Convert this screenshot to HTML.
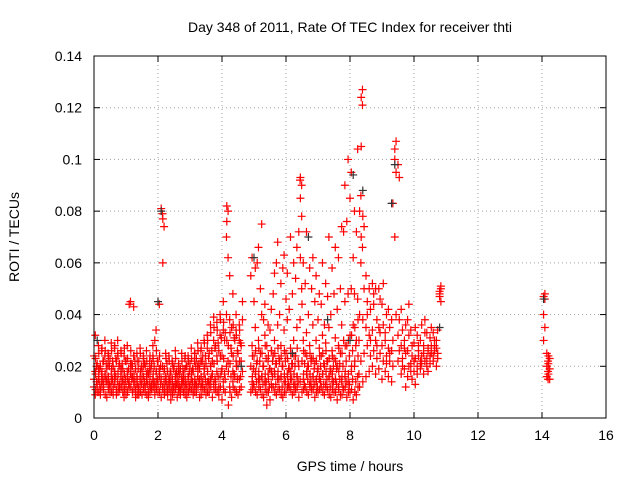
<!DOCTYPE html>
<html><head><meta charset="utf-8">
<style>
html,body{margin:0;padding:0;background:#fff;}
svg text{font-family:"Liberation Sans",sans-serif;font-size:14px;fill:#000;}
</style></head>
<body>
<svg id="chart" width="640" height="480" viewBox="0 0 640 480" xmlns="http://www.w3.org/2000/svg">
<rect width="640" height="480" fill="#fff"/>
<text x="350" y="32" text-anchor="middle">Day 348 of 2011, Rate Of TEC Index for receiver thti</text>
<text x="350" y="471" text-anchor="middle">GPS time / hours</text>
<text transform="translate(19,237) rotate(-90)" text-anchor="middle">ROTI / TECUs</text>
<g id="grid"></g>
<g id="ticks"></g>
<g id="red"></g>
<g id="black"></g>
<rect x="94" y="56" width="512" height="362" fill="none" stroke="#000" stroke-width="1"/>
</svg>
<script>
const xTicks=[0,2,4,6,8,10,12,14,16];
const yTicks=[0,0.02,0.04,0.06,0.08,0.1,0.12,0.14];
const yTickLabels=["0","0.02","0.04","0.06","0.08","0.1","0.12","0.14"];
const redHours=[0,0.1,0.2,0.3,0.4,0.5,0.6,0.7,0.8,0.9,1.0,1.1,1.2,1.3,1.4,1.5,1.6,1.7,1.8,1.9,2.0,2.1,2.15,2.2,2.3,2.4,2.5,2.6,2.7,2.8,2.9,3.0,3.1,3.2,3.3,3.4,3.5,3.6,3.7,3.8,3.9,4.0,4.1,4.15,4.2,4.3,4.4,4.5,4.6,
4.9,5.0,5.1,5.2,5.3,5.4,5.5,5.6,5.7,5.8,5.9,6.0,6.1,6.2,6.3,6.4,6.45,6.5,6.6,6.7,6.8,6.9,7.0,7.1,7.2,7.3,7.4,7.5,7.6,7.7,7.8,7.9,8.0,8.1,8.2,8.3,8.35,8.4,8.5,8.6,8.7,8.8,8.9,9.0,9.1,9.2,9.3,9.4,9.5,9.6,9.7,9.8,9.9,10.0,10.1,10.2,10.3,10.4,10.5,10.6,10.7,10.8,14.05,14.15,14.2];
const redRotiMilli=[
[12,18,24,32,15,9],[10,15,21,28,13,19],[9,14,20,26,11,17],[11,16,22,30,13,24],[8,13,19,25,15,21],[10,17,23,29,12,14],[12,15,20,27,9,18],[9,14,22,30,11,25],[11,16,21,26,13,19],[10,13,19,24,15,8],
[9,15,22,28,12,18],[12,17,44,45,14,21],[10,14,20,43,16,24],[8,13,19,25,11,16],[11,16,22,27,9,14],[9,12,18,24,15,20],[10,14,20,26,12,17],[8,13,17,22,10,19],[11,15,21,28,13,24],[9,14,30,34,12,18],
[10,16,22,44,13,19],[8,12,81,79,15,20],[60,74,77,18,11,14],[11,14,19,25,9,16],[9,13,18,24,11,15],[7,12,17,22,10,14],[10,14,20,26,12,17],[8,11,16,21,13,18],[9,13,19,25,11,15],[10,12,17,23,14,19],
[8,14,20,24,11,16],[11,15,21,27,13,18],[9,13,18,25,11,22],[10,16,23,29,13,20],[8,12,19,26,15,22],[11,17,24,30,14,20],[9,14,21,32,12,27],[10,15,25,36,13,20],[8,13,22,39,17,30],[11,18,28,37,14,24],
[9,16,26,40,12,32],[7,14,24,45,19,34],[10,20,33,70,15,40],[82,80,76,62,30,22],[5,12,28,55,18,38],[8,18,35,48,25,14],[11,22,30,40,16,34],[9,15,25,36,20,30],[12,18,28,45,22,38],
[10,14,20,28,55,62],[12,18,24,35,45,58],[9,15,22,30,60,66],[11,16,25,40,50,75],[8,14,20,32,38,44],[10,17,28,36,5,22],[7,13,19,26,34,42],[12,18,24,30,48,56],[9,15,21,36,60,68],[11,16,22,28,40,52],
[8,14,20,34,58,63],[10,17,25,38,46,56],[12,15,19,27,42,70],[9,13,21,30,48,60],[11,16,24,35,54,66],[8,14,20,38,72,92],[93,90,85,78,62,50],[10,15,22,30,44,60],[12,17,25,33,52,72],[9,13,20,28,40,58],
[11,16,23,36,50,62],[8,14,21,30,45,55],[10,15,19,27,38,48],[12,17,24,32,44,60],[9,13,20,29,36,52],[11,16,22,35,47,70],[8,14,18,26,40,58],[10,15,23,31,48,66],[7,12,20,28,42,62],[9,14,25,36,50,74],
[11,16,30,45,72,90],[8,14,28,48,76,100],[10,18,32,50,85,95],[7,20,36,48,62,80],[9,16,30,46,72,104],[12,22,40,60,80,86],[105,127,124,121,70,66],[14,25,38,50,78,74],[16,28,35,45,55,40],[18,24,32,42,50,30],
[20,26,34,48,52,44],[17,23,30,38,50,28],[19,25,35,46,50,33],[15,22,28,36,44,52],[18,24,33,40,30,21],[16,22,27,35,42,25],[14,20,26,30,38,83],[100,107,104,95,70,40],[22,26,32,38,98,93],[17,23,28,34,42,20],
[19,25,30,36,27,12],[16,20,26,32,38,44],[21,28,34,24,18,15],[18,23,29,35,22,13],[20,26,32,24,17,28],[19,24,30,36,22,21],[17,22,28,38,25,33],[23,27,33,26,20,18],[21,25,31,35,24,28],[24,28,22,26,33,30],
[20,25,30,23,27,34],[47,50,48,45,49,51],[47,46,40,35,30,48],[25,22,20,18,16,15],[24,23,21,19,17,15]];
// extra dense-band samples
const fillHours=[0.05,0.15,0.25,0.35,0.45,0.55,0.65,0.75,0.85,0.95,1.05,1.15,1.25,1.35,1.45,1.55,1.65,1.75,1.85,1.95,2.05,2.25,2.35,2.45,2.55,2.65,2.75,2.85,2.95,3.05,3.15,3.25,3.35,3.45,3.55,3.65,3.75,3.85,3.95,4.05,4.25,4.35,4.45,4.55,
4.95,5.05,5.15,5.25,5.35,5.45,5.55,5.65,5.75,5.85,5.95,6.05,6.15,6.25,6.35,6.55,6.65,6.75,6.85,6.95,7.05,7.15,7.25,7.35,7.45,7.55,7.65,7.75,7.85,7.95,8.05,8.15,8.25];
const fillRotiMilli=[
[11,14,17,20,23],[10,13,16,19,25],[12,15,18,22,27],[9,14,17,21,26],[11,13,16,20,24],[10,15,19,22,26],[13,16,18,23,28],[10,12,17,20,24],[12,14,18,21,25],[11,15,17,22,27],
[10,13,16,19,23],[12,15,18,21,26],[11,14,17,22,24],[9,12,15,19,22],[10,13,18,20,25],[11,14,16,21,23],[9,13,15,18,22],[10,12,16,19,24],[12,14,17,20,23],[11,15,18,22,26],
[10,13,17,20,24],[10,13,16,21,23],[11,14,15,18,22],[9,12,15,19,21],[11,13,16,18,23],[10,12,14,17,20],[11,14,16,19,22],[9,13,15,20,24],[10,12,16,18,22],[11,14,17,19,23],
[10,13,15,20,25],[12,14,18,21,26],[9,13,16,22,27],[11,15,19,24,29],[10,14,18,23,30],[12,16,20,26,33],[11,15,21,27,35],[10,16,22,29,34],[12,18,24,31,38],[11,17,23,30,37],
[10,16,21,27,33],[12,17,24,31,36],[10,15,20,26,32],[11,16,22,29,34],
[11,13,16,19,24],[10,14,17,21,26],[12,15,18,22,27],[9,13,16,20,25],[11,14,17,23,28],[10,12,15,19,24],[12,16,18,22,26],[10,13,17,21,25],[11,15,18,23,27],[9,12,16,20,24],
[10,14,17,22,26],[12,13,16,19,23],[11,15,18,21,25],[10,13,17,20,24],[12,14,16,22,27],[11,13,17,21,26],[10,15,18,20,24],[12,14,17,22,25],[11,13,16,19,23],[10,12,15,18,22],
[11,14,16,20,24],[10,13,17,21,25],[12,15,18,22,26],[9,12,16,19,23],[11,14,17,20,24],[10,13,15,19,22],[11,15,18,21,27],[9,12,16,20,25],[12,14,18,22,28],[10,13,17,24,30],
[11,15,20,26,32],[10,14,22,28,35],[12,17,24,30,38]];
const blackHours=[2.0,2.1,4.6,5.0,6.7,8.1,8.4,9.4,9.3,7.3,10.8,0.1,14.05,8.0,6.2];
const blackRotiMilli=[45,80,20,62,70,94,88,98,83,38,35,30,46,30,25];

const X0=94,X1=606,Y0=418,Y1=56;
function xs(t){return X0+(t-0)/(16-0)*(X1-X0);}
function ys(v){return Y0-(v-0)/(0.14-0)*(Y0-Y1);}
const NS="http://www.w3.org/2000/svg";
function mk(tag,attrs,parent){const e=document.createElementNS(NS,tag);for(const k in attrs)e.setAttribute(k,attrs[k]);parent.appendChild(e);return e;}
const grid=document.getElementById('grid'),ticks=document.getElementById('ticks');
xTicks.forEach((t,i)=>{const x=xs(t);
 if(i>0&&i<xTicks.length-1){const g=mk('line',{x1:x,x2:x,y1:Y0,y2:Y1,stroke:'#a0a0a0','stroke-dasharray':'1,3'},grid);
 
 }
 const a=mk('line',{x1:x,x2:x,y1:Y0,y2:Y0-6,stroke:'#000'},ticks);
 
 
 const b=mk('line',{x1:x,x2:x,y1:Y1,y2:Y1+6,stroke:'#000'},ticks);
 
 
 const l=mk('text',{x:x,y:Y0+22,'text-anchor':'middle'},ticks);l.textContent=String(t);
 
 
});
yTicks.forEach((v,i)=>{const y=ys(v);
 if(i>0&&i<yTicks.length-1){const g=mk('line',{x1:X0,x2:X1,y1:y,y2:y,stroke:'#a0a0a0','stroke-dasharray':'1,3'},grid);
 
 }
 const a=mk('line',{x1:X0,x2:X0+6,y1:y,y2:y,stroke:'#000'},ticks);
 
 
 const b=mk('line',{x1:X1,x2:X1-6,y1:y,y2:y,stroke:'#000'},ticks);
 
 
 const l=mk('text',{x:X0-12,y:y+5,'text-anchor':'end'},ticks);l.textContent=yTickLabels[i];
 
 
});
function plus(g,t,v,color){const x=xs(t),y=ys(v);
 const p=mk('path',{d:`M${x-4} ${y}H${x+4}M${x} ${y-4}V${y+4}`,stroke:color,'stroke-width':1.2,fill:'none'},g);
 
 }
const red=document.getElementById('red'),black=document.getElementById('black');
blackHours.forEach((t,i)=>plus(black,t,blackRotiMilli[i]/1000,'#333'));
redHours.forEach((t,i)=>{redRotiMilli[i].forEach((v,j)=>plus(red,t+(j%2)*0.04,v/1000,'#ff0000'));});
fillHours.forEach((t,i)=>{fillRotiMilli[i].forEach((v,j)=>plus(red,t+(j%2)*0.03,v/1000,'#ff0000'));});
document.getElementById('chart').appendChild(black);
</script>
</body></html>
